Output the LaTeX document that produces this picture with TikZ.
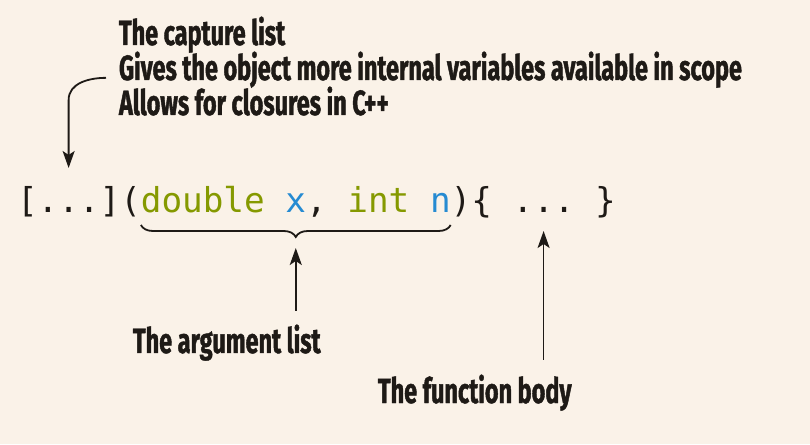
\documentclass[tikz,border=0pt]{standalone}
\usepackage{fontspec}
\setmonofont{DejaVu Sans Mono}
\newfontfamily\notefont[FakeStretch=0.67,BoldFeatures={FakeBold=1.2}]{Fira Sans}
\usetikzlibrary{positioning,arrows.meta,decorations.pathreplacing}
\definecolor{paper}{RGB}{250,242,232}
\definecolor{ink}{RGB}{30,26,22}
\definecolor{kwgreen}{RGB}{133,153,0}
\definecolor{varblue}{RGB}{38,139,210}

\begin{document}
\begin{tikzpicture}[x=1pt,y=1pt,
  code/.style={inner sep=0pt,outer sep=0pt,text=ink,font=\ttfamily\fontsize{34.3}{34}\selectfont},
  note/.style={inner sep=0pt,outer sep=0pt,anchor=base west,text=ink,font=\notefont\bfseries\fontsize{35}{35}\selectfont},
  pointer/.style={draw=ink,line width=1.8pt,-{Stealth[length=17pt,width=12pt,inset=4pt]}}]
\fill[paper] (0,0) rectangle (810,444);

\node[code,anchor=base west] (lead) at (17,231) {[};
\node[code,base right=0pt of lead] (capdots) {...};
\node[code,base right=0pt of capdots] (mid) {](};
\node[code,base right=0pt of mid] (args) {\textcolor{kwgreen}{double} \textcolor{varblue}{x}, \textcolor{kwgreen}{int} \textcolor{varblue}{n}};
\node[code,base right=0pt of args] (open) {)\{\ \null};
\node[code,base right=0pt of open] (bodydots) {...};
\node[code,base right=0pt of bodydots] (close) {\ \}};

\node[note] (capline1) at (119,399) {The capture list};
\node[note] (capline2) at ([yshift=-35pt]capline1.base west) {Gives the object more internal variables available in scope};
\node[note] (capline3) at ([yshift=-35pt]capline2.base west) {Allows for closures in C++};
\node[note] (arglabel) at (133,91) {The argument list};
\node[note] (bodylabel) at (378,41) {The function body};

\draw[ink,line width=1.8pt,decorate,decoration={brace,mirror,amplitude=12pt}]
  ([yshift=-12pt]args.base west) -- ([yshift=-12pt]args.base east);

\coordinate (captip) at ([yshift=45pt]capdots.base);
\coordinate (capbend) at ([yshift=68pt]captip);
\coordinate (argtip) at ([yshift=-35pt]args.base);
\coordinate (argtail) at (argtip |- arglabel.north);
\coordinate (bodytip) at ([yshift=-18pt]bodydots.base);
\coordinate (bodytail) at (bodytip |- bodylabel.north);

\draw[pointer] ([xshift=-13pt]capline2.mid west) to[out=180,in=90] (capbend) -- (captip);
\draw[pointer] ([yshift=14pt]argtail) -- (argtip);
\draw[pointer] ([yshift=15pt]bodytail) -- (bodytip);
\end{tikzpicture}
\end{document}
